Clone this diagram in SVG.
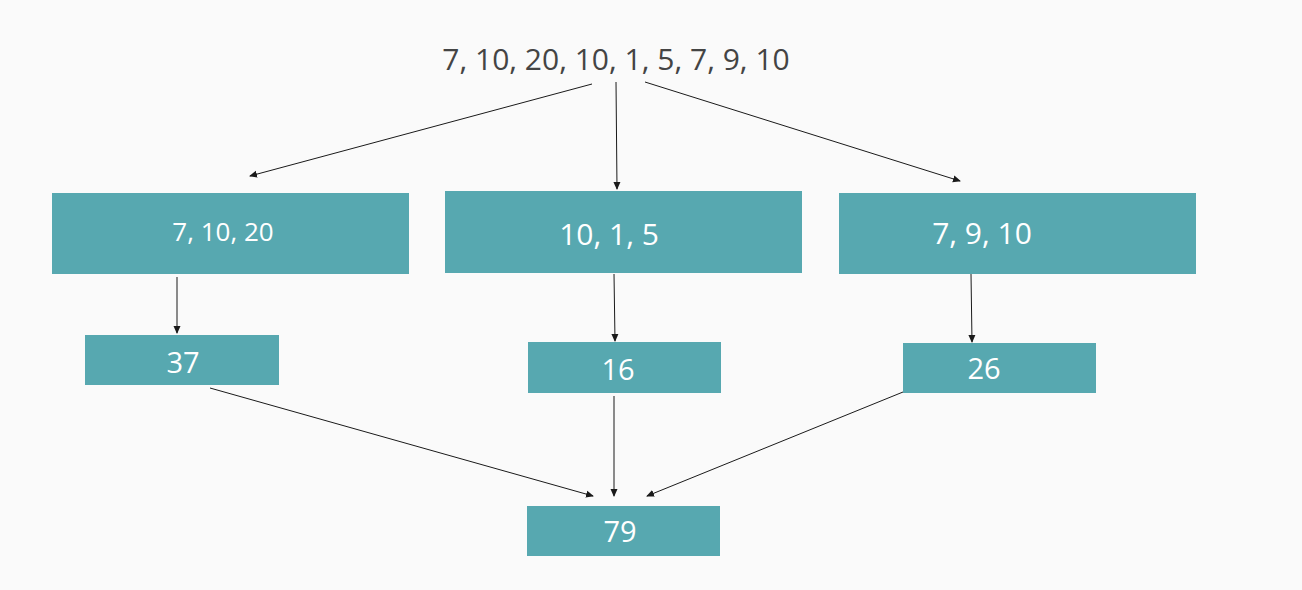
<svg xmlns="http://www.w3.org/2000/svg" width="1302" height="590" viewBox="0 0 1302 590">
<style>
.box{fill:#57a8b0;}
.t{font-family:"Open Sans","Noto Sans",sans-serif;fill:#ffffff;text-anchor:middle;dominant-baseline:central;}
.c{stroke:#1a1a1a;stroke-width:1;fill:none;marker-end:url(#ah);}
</style>
<defs>
<marker id="ah" markerWidth="8" markerHeight="8" refX="7" refY="4" orient="auto" markerUnits="userSpaceOnUse">
<path d="M0,0.5 L8,4 L0,7.5 Z" fill="#1a1a1a"/>
</marker>
</defs>
<rect width="1302" height="590" fill="#fafafa"/>
<g id="root"><text x="616" y="58" font-family="'Open Sans','Noto Sans',sans-serif" font-size="30" fill="#444444" text-anchor="middle" dominant-baseline="central">7, 10, 20, 10, 1, 5, 7, 9, 10</text></g>
<g id="connectors">
<line class="c" x1="592" y1="84" x2="250" y2="176"/>
<line class="c" x1="616" y1="82" x2="617" y2="189"/>
<line class="c" x1="645" y1="82" x2="960" y2="181"/>
<line class="c" x1="177" y1="277" x2="177" y2="333"/>
<line class="c" x1="614" y1="274" x2="615" y2="341"/>
<line class="c" x1="971" y1="274" x2="972" y2="342"/>
<line class="c" x1="210" y1="388" x2="593" y2="496"/>
<line class="c" x1="614" y1="396" x2="614" y2="496"/>
<line class="c" x1="903" y1="392" x2="647" y2="496"/>
</g>
<g id="n1"><rect class="box" x="52" y="193" width="357" height="81"/><text class="t" x="223" y="231" font-size="26">7, 10, 20</text></g>
<g id="n2"><rect class="box" x="445" y="191" width="357" height="82"/><text class="t" x="609" y="233" font-size="30">10, 1, 5</text></g>
<g id="n3"><rect class="box" x="839" y="193" width="357" height="81"/><text class="t" x="982" y="232" font-size="30">7, 9, 10</text></g>
<g id="n4"><rect class="box" x="85" y="335" width="194" height="50"/><text class="t" x="183" y="361" font-size="29">37</text></g>
<g id="n5"><rect class="box" x="528" y="342" width="193" height="51"/><text class="t" x="618" y="368" font-size="29">16</text></g>
<g id="n6"><rect class="box" x="903" y="343" width="193" height="50"/><text class="t" x="984" y="367" font-size="29">26</text></g>
<g id="n7"><rect class="box" x="527" y="506" width="193" height="50"/><text class="t" x="620" y="530" font-size="29">79</text></g>
</svg>
